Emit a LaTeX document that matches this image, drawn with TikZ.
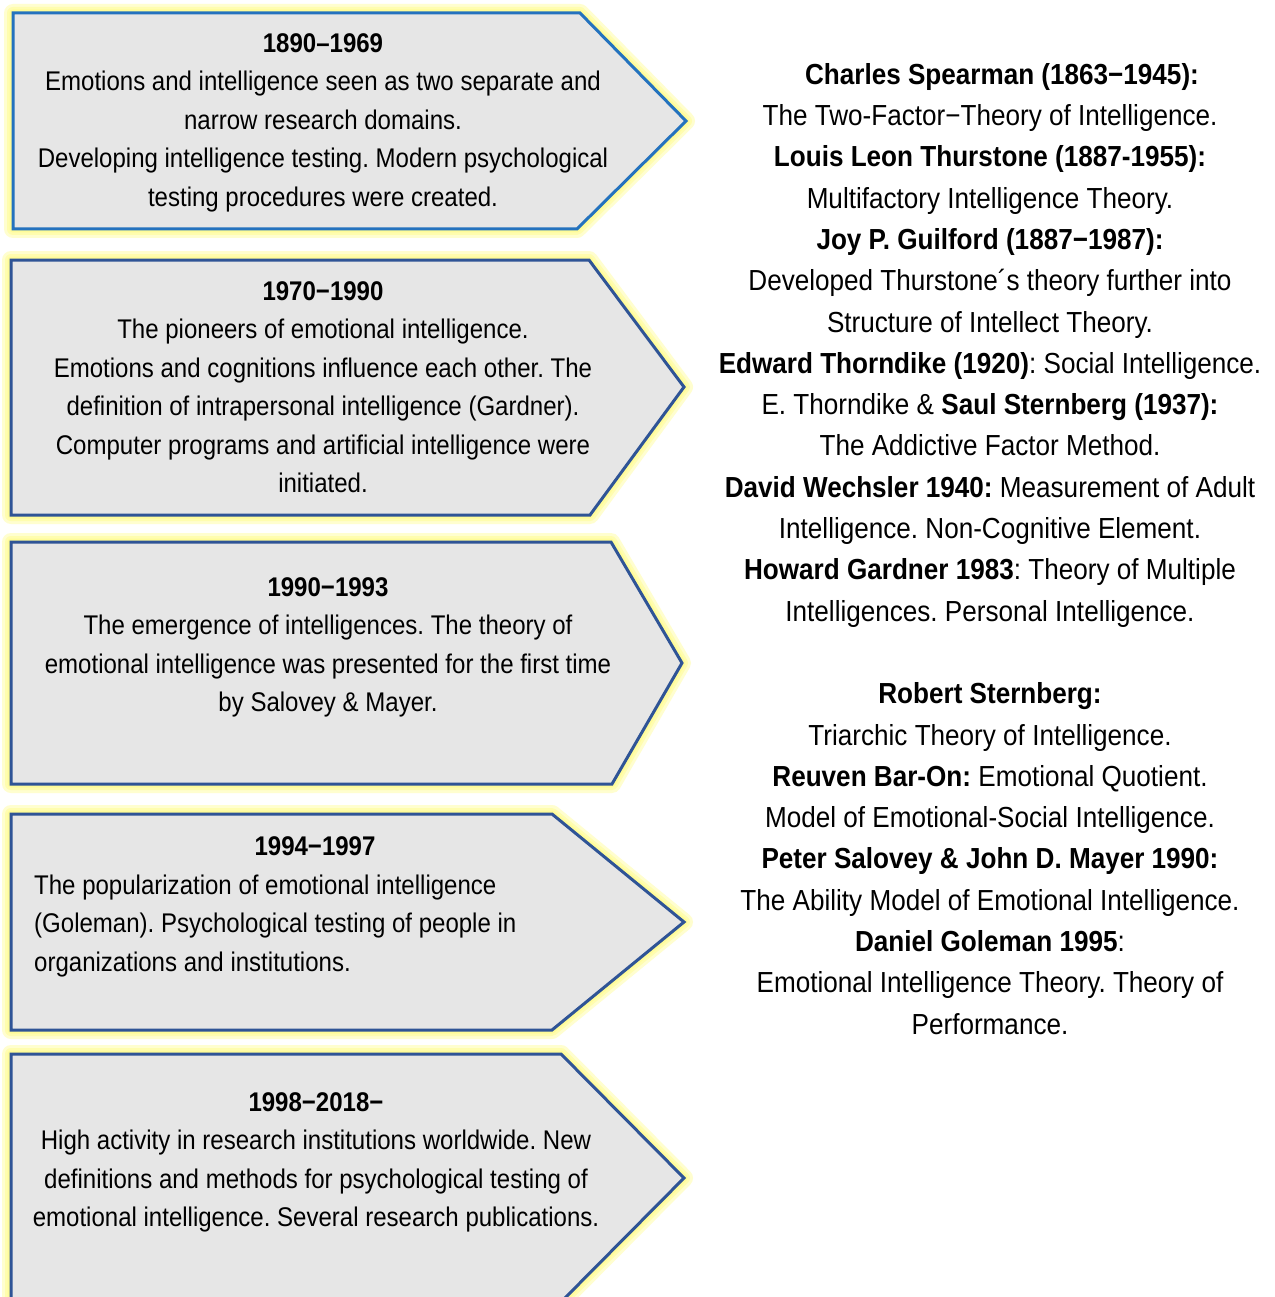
\documentclass[tikz,border=0pt]{standalone}
\usepackage{fontspec}
\setmainfont{Liberation Sans}
\newfontfamily\narrowfont[FakeStretch=0.89]{Liberation Sans}
\newfontfamily\listfont[FakeStretch=0.9]{Liberation Sans}
\usetikzlibrary{positioning}
\definecolor{boxfill}{RGB}{230,230,230}
\definecolor{lightblue}{RGB}{36,114,190}
\definecolor{darkblue}{RGB}{47,84,150}
\definecolor{glow}{RGB}{255,252,110}
\tikzset{
	x=1pt, y=-1pt, % one unit per pixel, y running downwards
	period/.style={draw=darkblue, line width=3pt, fill=boxfill, line join=miter}, % the arrow-shaped boxes
	halo/.style={draw=glow, line join=round, line width=#1, opacity=0.33}, % soft yellow rim
	boxtext/.style={inner sep=0pt, align=center, anchor=north, font=\narrowfont\fontsize{27}{38.5}\selectfont},
	names/.style={inner sep=0pt, align=center, anchor=north, font=\listfont\fontsize{29}{41.3}\selectfont},
}
% glow first, then the filled box on top of it
\newcommand{\arrowbox}[2][darkblue]{%
	\foreach \w in {18,12,7}
		\draw[halo=\w pt] #2;
	\draw[period, draw=#1] #2;
}

\begin{document}
\frenchspacing
\begin{tikzpicture}
	\clip (0,0) rectangle (1274,1297);
	\fill[white] (0,0) rectangle (1274,1297);

	\arrowbox[lightblue]{(13,13) -- (580,13) -- (686,121) -- (577,229) -- (13,229) -- cycle}
	\arrowbox{(11,260) -- (589,260) -- (684,387) -- (590,515) -- (11,515) -- cycle}
	\arrowbox{(11,542) -- (611,542) -- (682,663) -- (612,784) -- (11,784) -- cycle}
	\arrowbox{(11,814) -- (552,814) -- (684,922) -- (552,1030) -- (11,1030) -- cycle}
	\arrowbox{(11,1054) -- (561,1054) -- (684,1178) -- (561,1302) -- (11,1302) -- cycle}

	\node[boxtext] (p1890) at (323,33.4) {\textbf{1890–1969}\\
		Emotions and intelligence seen as two separate and\\
		narrow research domains.\\
		Developing intelligence testing. Modern psychological\\
		testing procedures were created.};
	\node[boxtext] (p1970) at (323,281.4) {\textbf{1970−1990}\\
		The pioneers of emotional intelligence.\\
		Emotions and cognitions influence each other. The\\
		definition of intrapersonal intelligence (Gardner).\\
		Computer programs and artificial intelligence were\\
		initiated.};
	\node[boxtext] (p1990) at (328,577.4) {\textbf{1990−1993}\\
		The emergence of intelligences. The theory of\\
		emotional intelligence was presented for the first time\\
		by Salovey \& Mayer.};
	\node[boxtext] (p1994) at (315,836.4) {\textbf{1994−1997}};
	\node[boxtext, anchor=north west, align=left] (p1994b) at (34,874.4) {The popularization of emotional intelligence\\
		(Goleman). Psychological testing of people in\\
		organizations and institutions.};
	\node[boxtext] (p1998) at (316,1092.4) {\textbf{1998−2018−}\\
		High activity in research institutions worldwide. New\\
		definitions and methods for psychological testing of\\
		emotional intelligence. Several research publications.};

	\node[names] (theorists) at (990,63) {\hspace*{24pt}\textbf{Charles Spearman (1863−1945):}\\
		The Two-Factor−Theory of Intelligence.\\
		\textbf{Louis Leon Thurstone (1887-1955):}\\
		Multifactory Intelligence Theory.\\
		\textbf{Joy P. Guilford (1887−1987):}\\
		Developed Thurstone´s theory further into\\
		Structure of Intellect Theory.\\
		\textbf{Edward Thorndike (1920)}: Social Intelligence.\\
		E. Thorndike \& \textbf{Saul Sternberg (1937):}\\
		The Addictive Factor Method.\\
		\textbf{David Wechsler 1940:} Measurement of Adult\\
		Intelligence. Non-Cognitive Element.\\
		\textbf{Howard Gardner 1983}: Theory of Multiple\\
		Intelligences. Personal Intelligence.\\[41.3pt]
		\textbf{Robert Sternberg:}\\
		Triarchic Theory of Intelligence.\\
		\textbf{Reuven Bar-On:} Emotional Quotient.\\
		Model of Emotional-Social Intelligence.\\
		\textbf{Peter Salovey \& John D. Mayer 1990:}\\
		The Ability Model of Emotional Intelligence.\\
		\textbf{Daniel Goleman 1995}:\\
		Emotional Intelligence Theory. Theory of\\
		Performance.};
\end{tikzpicture}
\end{document}
